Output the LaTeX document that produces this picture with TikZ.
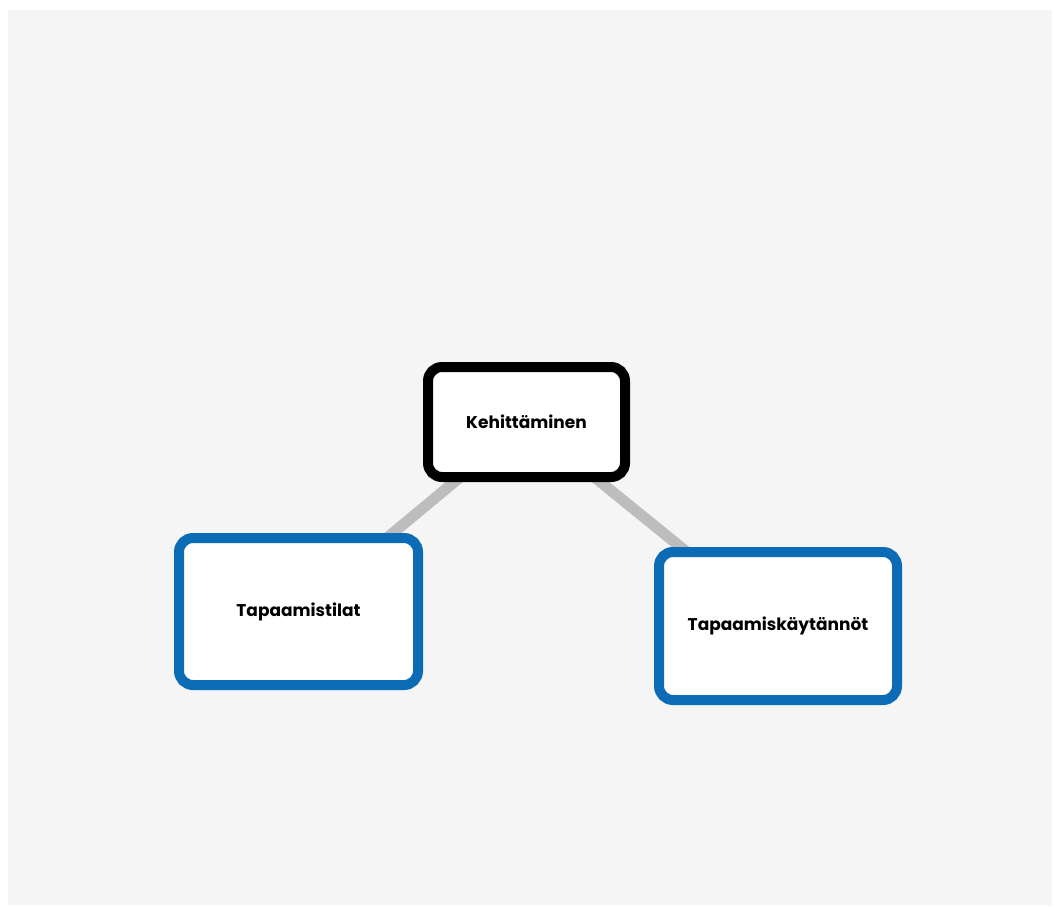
\documentclass[tikz,border=0pt]{standalone}
\usepackage{fontspec}
\setmainfont{Poppins}
\usetikzlibrary{backgrounds}
\definecolor{bg}{HTML}{F5F5F5}
\definecolor{boxblue}{HTML}{0B6BB5}
\definecolor{linkgray}{HTML}{BDBDC0}
\tikzset{
  x=1pt, y=-1pt,
  boxlabel/.style={font=\bfseries\fontsize{17}{20}\selectfont, inner sep=0pt, fill=white, line width=10pt, rounded corners=14pt},
  topic/.style={boxlabel, draw=black},
  subtopic/.style={boxlabel, draw=boxblue},
  link/.style={draw=linkgray, line width=11pt}
}
\begin{document}
\begin{tikzpicture}
\useasboundingbox (0,0) rectangle (1058,907);
\node[topic, minimum width=197pt, minimum height=110pt] (k) at (526.5,422) {Kehittäminen};
\node[subtopic, minimum width=239pt, minimum height=147pt] (t1) at (298.5,611.5) {Tapaamistilat};
\node[subtopic, minimum width=238pt, minimum height=148pt] (t2) at (778,626) {Tapaamiskäytännöt};
\begin{scope}[on background layer]
\fill[white] (0,0) rectangle (1058,907);
\fill[bg] (8,10) rectangle (1052,905);
\draw[link] (k.center) -- (t1.center);
\draw[link] (k.center) -- (t2.center);
\end{scope}
\end{tikzpicture}
\end{document}
